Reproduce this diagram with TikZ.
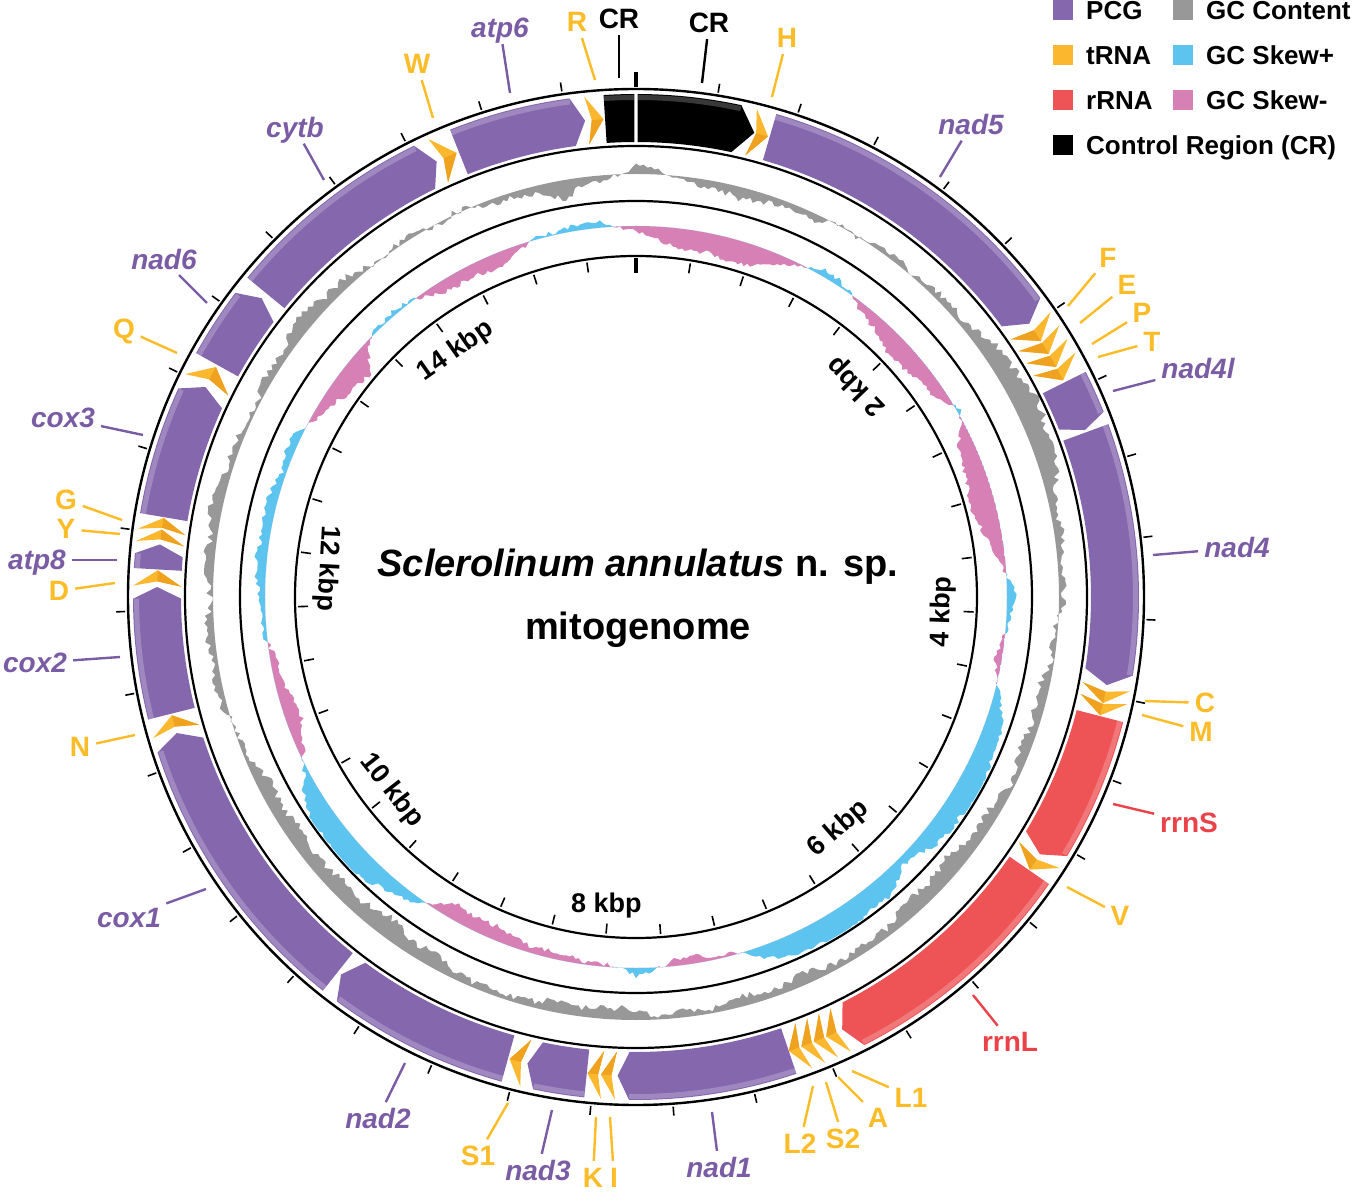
\documentclass[tikz,border=0pt]{standalone}
\usepackage{fontspec}
\setmainfont{Liberation Sans}
\usetikzlibrary{positioning}

\definecolor{pcg}{RGB}{133,103,173}
\definecolor{pcgtext}{RGB}{122,92,165}
\definecolor{trna}{RGB}{251,184,46}
\definecolor{trnadark}{RGB}{238,162,32}
\definecolor{trnatext}{RGB}{251,188,40}
\definecolor{rrna}{RGB}{238,83,85}
\definecolor{rrnatext}{RGB}{234,66,72}
\definecolor{gccont}{RGB}{152,152,152}
\definecolor{skewpos}{RGB}{92,196,238}
\definecolor{skewneg}{RGB}{214,128,182}

% gene block: start, body end, tip (degrees clockwise from top), colour
\newcommand{\geneblock}[4]{%
  \fill[#4] ({90-#1}:503) arc[start angle={90-#1}, end angle={90-#2}, radius=503]
    -- ({90-#3}:479) -- ({90-#2}:455)
    arc[start angle={90-#2}, end angle={90-#1}, radius=455] -- cycle;
  \fill[white, opacity=0.22] ({90-#1}:502) arc[start angle={90-#1}, end angle={90-#2}, radius=502]
    -- ({90-#2}:497) arc[start angle={90-#2}, end angle={90-#1}, radius=497] -- cycle;
}
% tRNA chevron: start, width
\newcommand{\trnamark}[2]{%
  \fill[trna] ({90-#1}:503) -- ({90-#1-#2}:479) -- ({90-#1}:455) -- ({90-#1-0.3*#2}:479) -- cycle;
  \fill[trnadark] ({90-#1-0.3*#2}:479) -- ({90-#1-#2}:479) -- ({90-#1}:455) -- cycle;
}

\begin{document}
\begin{tikzpicture}[x=1pt, y=1pt,
    pcglbl/.style={font=\fontsize{28}{30}\selectfont\bfseries\itshape, text=pcgtext, inner sep=2pt, text height=20pt, text depth=0pt},
    trnalbl/.style={font=\fontsize{28}{30}\selectfont\bfseries, text=trnatext, inner sep=2pt, text height=20pt, text depth=0pt},
    rrnalbl/.style={font=\fontsize{28}{30}\selectfont\bfseries, text=rrnatext, inner sep=2pt, text height=20pt, text depth=0pt},
    crlbl/.style={font=\fontsize{28}{30}\selectfont\bfseries, text=black, inner sep=2pt, text height=20pt, text depth=0pt},
    lblline/.style={line width=2.4pt, shorten <=4pt},
    ticklbl/.style={font=\fontsize{27}{29}\selectfont\bfseries, inner sep=0pt},
    legsq/.style={minimum size=20pt, inner sep=0pt, outer sep=0pt},
    legtxt/.style={font=\fontsize{26}{28}\selectfont\bfseries, inner sep=0pt, text height=18.6pt, text depth=0pt}]
  \useasboundingbox (-636,-604) rectangle (718,597);

  % GC content track
  \pgfmathsetseed{11}
  \def\gcenv{{6,-10,-3,-2,2,8,14,16,6,0,-4,-6,-8,-10,-10,-6,-4,-6,-6,-6,-6,-8,-12,-12,-8,-2,4,6,6,4,6,8,4,2,-4,-10,6}}
  \gdef\gcpath{}
  \foreach \k in {0,...,719}{
    \pgfmathsetmacro\ang{\k/2}
    \pgfmathtruncatemacro\idx{\k/20}
    \pgfmathtruncatemacro\nxt{\idx+1}
    \pgfmathsetmacro\frc{\k/20-\idx}
    \pgfmathsetmacro\envA{\gcenv[\idx]}
    \pgfmathsetmacro\envB{\gcenv[\nxt]}
    \pgfmathsetmacro\rad{423+1.35*(\envA*(1-\frc)+\envB*\frc)+3*sin(13*\ang)+2*sin(41*\ang)+3.5*rand}
    \pgfmathsetmacro\pang{90-\ang}
    \ifnum\k=0 \xdef\gcpath{(\pang:\rad)}\else\xdef\gcpath{\gcpath -- (\pang:\rad)}\fi
  }
  \fill[gccont, even odd rule] \gcpath -- cycle (0,0) circle[radius=423];

  % GC skew track
  \def\skenv{{-6,-16,-20,-22,-18,-4,5,3,-12,-18,-20,-12,2,-14,-22,-24,-18,-3,9,2,-8,6,18,22,24,22,16,8,20,24,24,22,12,-2,-7,-4,8,-3,-5,-7,-10,-14,-16,3,15,22,25,22,14,-6,-14,-12,-4,3,7,9,11,9,6,8,-6,-20,-22,2,6,-6,-12,-14,-10,2,6,5,-6}}
  \gdef\skpath{}
  \foreach \k in {0,...,719}{
    \pgfmathsetmacro\ang{\k/2}
    \pgfmathtruncatemacro\idx{\k/10}
    \pgfmathtruncatemacro\nxt{\idx+1}
    \pgfmathsetmacro\frc{\k/10-\idx}
    \pgfmathsetmacro\envA{\skenv[\idx]}
    \pgfmathsetmacro\envB{\skenv[\nxt]}
    \pgfmathsetmacro\rad{371+\envA*(1-\frc)+\envB*\frc+1.5*sin(37*\ang)+2.5*rand}
    \pgfmathsetmacro\pang{90-\ang}
    \ifnum\k=0 \xdef\skpath{(\pang:\rad)}\else\xdef\skpath{\skpath -- (\pang:\rad)}\fi
  }
  \begin{scope}
    \clip (0,0) circle[radius=371];
    \fill[skewneg, even odd rule] \skpath -- cycle (0,0) circle[radius=371];
  \end{scope}
  \begin{scope}[even odd rule]
    \clip (0,0) circle[radius=394] (0,0) circle[radius=371];
    \fill[skewpos] \skpath -- cycle (0,0) circle[radius=371];
  \end{scope}

  % Draw rings
  \draw[line width=2.4pt] (0,0) circle[radius=508];
  \draw[line width=2.2pt] (0,0) circle[radius=451];
  \draw[line width=2.2pt] (0,0) circle[radius=396];
  \draw[line width=2.2pt] (0,0) circle[radius=341];

  % Draw ticks (400 bp)
  \foreach \k in {1,...,38}{
    \draw[line width=1.6pt] ({90-\k*9.254}:511) -- ({90-\k*9.254}:520);
    \draw[line width=1.6pt] ({90-\k*9.254}:338) -- ({90-\k*9.254}:328);
  }
  \draw[line width=3.2pt] (90:510) -- (90:525);
  \draw[line width=3.2pt] (90:339) -- (90:324);

  % Draw genes
  \geneblock{16.2}{53.5}{55.2}{pcg}       % nad5
  \geneblock{63.4}{68.4}{69.6}{pcg}       % nad4l
  \geneblock{69.9}{99.0}{100.6}{pcg}      % nad4
  \geneblock{104.4}{121.0}{122.5}{rrna}   % rrnS
  \geneblock{124.8}{153.0}{154.5}{rrna}   % rrnL
  \geneblock{161.4}{180.8}{182.2}{pcg}    % nad1
  \geneblock{185.9}{191.8}{193.1}{pcg}    % nad3
  \geneblock{195.5}{216.5}{218.0}{pcg}    % nad2
  \geneblock{218.5}{252.0}{253.5}{pcg}    % cox1
  \geneblock{255.9}{269.8}{271.2}{pcg}    % cox2
  \geneblock{273.3}{275.0}{276.3}{pcg}    % atp8
  \geneblock{279.6}{294.5}{296.0}{pcg}    % cox3
  \geneblock{299.0}{307.2}{308.6}{pcg}    % nad6
  \geneblock{309.4}{333.8}{335.4}{pcg}    % cytb
  \geneblock{338.3}{352.4}{353.9}{pcg}    % atp6
  \geneblock{356.3}{359.8}{359.8}{black}  % CR
  \geneblock{0.2}{12.1}{14.3}{black}      % CR

  % Draw tRNAs
  \trnamark{13.9}{2.1}   % H
  \trnamark{55.5}{2.2}   % F
  \trnamark{57.3}{2.2}   % E
  \trnamark{59.1}{2.2}   % P
  \trnamark{60.9}{2.2}   % T
  \trnamark{100.8}{2.0}  % C
  \trnamark{102.3}{2.0}  % M
  \trnamark{122.6}{2.1}  % V
  \trnamark{154.7}{1.9}  % L1
  \trnamark{156.3}{1.9}  % A
  \trnamark{157.9}{1.9}  % S2
  \trnamark{159.5}{1.9}  % L2
  \trnamark{182.4}{1.8}  % I
  \trnamark{184.0}{1.8}  % K
  \trnamark{193.3}{2.0}  % S1
  \trnamark{253.7}{2.0}  % N
  \trnamark{271.3}{1.9}  % D
  \trnamark{276.4}{1.7}  % Y
  \trnamark{277.8}{1.7}  % G
  \trnamark{296.3}{2.4}  % Q
  \trnamark{335.6}{2.4}  % W
  \trnamark{354.1}{2.0}  % R

  % Draw scale labels
  \node[ticklbl, rotate=134] (kb2) at ({90-46.3}:305) {2 kbp};
  \node[ticklbl, rotate=88] (kb4) at ({90-92.8}:307) {4 kbp};
  \node[ticklbl, rotate=41] (kb6) at ({90-138.8}:308) {6 kbp};
  \node[ticklbl] (kb8) at ({90-185.5}:310) {8 kbp};
  \node[ticklbl, rotate=-52] (kb10) at ({90-231.6}:312) {10 kbp};
  \node[ticklbl, rotate=-93] (kb12) at ({90-275.3}:310) {12 kbp};
  \node[ticklbl, rotate=35] (kb14) at ({90-323.8}:305) {14 kbp};

  \begin{scope}[shift={(-636,597)}, yscale=-1]
    % Draw gene labels
    \foreach \nm/\lx/\ly/\px/\py in {atp6/500/28/510/93, nad5/971/125/940/177,
        nad4l/1198/369/1113/391, nad4/1237/548/1153/555, nad1/719/1167/712/1112,
        nad3/538/1170/552/1110, nad2/378/1118/405/1063, cox1/129/917/206/889,
        cox2/35/663/120/657, atp8/37/560/117/560, cox3/63/418/143/435,
        nad6/164/260/207/303, cytb/295/128/324/180}{
      \node[pcglbl] (lbl-\nm) at (\lx,\ly) {\nm};
      \coordinate (pt-\nm) at (\px,\py);
      \draw[lblline, pcgtext] (lbl-\nm) -- (pt-\nm);
    }
    \foreach \nm/\lx/\ly/\px/\py in {R/577/22/595/80, H/787/38/772/97,
        F/1108/258/1068/306, E/1127/285/1080/323, P/1142/313/1092/344,
        T/1152/342/1098/357, C/1205/703/1145/701, M/1201/731/1142/715,
        V/1120/915/1067/887, L1/911/1097/852/1071, A/878/1117/838/1077,
        S2/843/1138/826/1082, L2/800/1143/813/1086, I/614/1177/610/1117,
        K/593/1177/596/1117, S1/478/1155/508/1103, N/80/747/135/735,
        D/59/591/115/583, Y/66/529/120/534, G/66/500/122/520,
        Q/124/329/177/353, W/417/64/433/118}{
      \node[trnalbl] (lbl-\nm) at (\lx,\ly) {\nm};
      \coordinate (pt-\nm) at (\px,\py);
      \draw[lblline, trnatext] (lbl-\nm) -- (pt-\nm);
    }
    \foreach \nm/\lx/\ly/\px/\py in {rrnS/1189/822/1113/804, rrnL/1010/1041/973/995}{
      \node[rrnalbl] (lbl-\nm) at (\lx,\ly) {\nm};
      \coordinate (pt-\nm) at (\px,\py);
      \draw[lblline, rrnatext] (lbl-\nm) -- (pt-\nm);
    }
    \node[crlbl] (lbl-CRa) at (619,19) {CR};
    \coordinate (pt-CRa) at (619,78);
    \draw[lblline, black] (lbl-CRa) -- (pt-CRa);
    \node[crlbl] (lbl-CRb) at (709,23) {CR};
    \coordinate (pt-CRb) at (702,83);
    \draw[lblline, black] (lbl-CRb) -- (pt-CRb);

    % Draw title
    \node[font=\fontsize{38}{40}\selectfont\bfseries, anchor=base] (title) at (638,577)
      {\textit{Sclerolinum annulatus} n. sp.};
    \node[font=\fontsize{38}{40}\selectfont\bfseries, anchor=base] (subtitle) at (638,640) {mitogenome};

    % Draw legend
    \foreach \nm/\col/\lx/\ly/\txt in {pcg/pcg/1063/10/PCG, trna/trna/1063/55/tRNA,
        rrna/rrna/1063/100/rRNA, cr/black/1063/145/Control Region (CR),
        gc/gccont/1183/10/GC Content, skp/skewpos/1183/55/GC Skew+,
        skn/skewneg/1183/100/GC Skew-}{
      \node[legsq, fill=\col] (sq-\nm) at (\lx,\ly) {};
      \node[legtxt, right=13pt of sq-\nm] (tx-\nm) {\txt};
    }
  \end{scope}
\end{tikzpicture}
\end{document}
